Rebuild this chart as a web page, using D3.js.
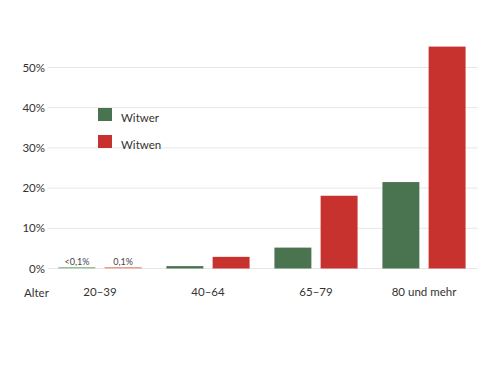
<!DOCTYPE html>
<html lang="de">
<head>
  <meta charset="UTF-8">
  <title>Verwitwet nach Alter</title>
  <style>
    body { margin: 0; background: #fff; }
    svg { font-family: Lato, "Open Sans", sans-serif; }
  </style>
  <script src="https://d3js.org/d3.v7.min.js"></script>
</head>
<body>
<script>
  var categories = ["20–39", "40–64", "65–79", "80 und mehr"];
  var witwer = [0.05, 0.6, 5.2, 21.5];
  var witwen = [0.1, 2.9, 18.1, 55.2];
  var smallLabels = ["<0,1%", "0,1%"];
  var yTicks = [0, 10, 20, 30, 40, 50];
  var seriesNames = ["Witwer", "Witwen"];
  var colors = ["#4a7450", "#c8322e"];
  var lightColors = ["#9cbf9c", "#ef9a92"];

  var width = 500, height = 380;
  var svg = d3.select("body").append("svg")
    .attr("width", width).attr("height", height);

  var y = d3.scaleLinear().domain([0, 50]).range([268.5, 67.5]);
  var x0 = d3.scaleBand().domain(categories).range([46, 478]).paddingInner(0.23).paddingOuter(0.115);
  var x1 = d3.scaleBand().domain([0, 1]).range([0, x0.bandwidth()]).paddingInner(0.2);

  // gridlines
  svg.append("g").selectAll("line").data(yTicks).enter().append("line")
    .attr("x1", 48).attr("x2", 478)
    .attr("y1", function (d) { return y(d); })
    .attr("y2", function (d) { return y(d); })
    .attr("stroke", "#e6e6e6").attr("stroke-width", 1);

  var yAxis = d3.axisLeft(y).tickValues(yTicks).tickSize(0).tickPadding(0)
    .tickFormat(function (d) { return d + "%"; });
  var gy = svg.append("g").attr("transform", "translate(45,0)").call(yAxis);
  gy.select(".domain").remove();
  gy.selectAll("text").attr("font-size", 11.5).attr("fill", "#333")
    .attr("font-family", "Lato, sans-serif");

  // bars
  var rows = categories.map(function (c, i) { return { cat: c, vals: [witwer[i], witwen[i]], i: i }; });
  var groups = svg.append("g").selectAll("g").data(rows).enter().append("g")
    .attr("transform", function (d) { return "translate(" + x0(d.cat) + ",0)"; });

  groups.selectAll("rect").data(function (d) {
    return d.vals.map(function (v, k) { return { v: v, k: k, i: d.i }; });
  }).enter().append("rect")
    .attr("x", function (d) { return x1(d.k); })
    .attr("width", x1.bandwidth())
    .attr("y", function (d) { return Math.min(y(d.v), y(0) - 1.5); })
    .attr("height", function (d) { return Math.max(y(0) - y(d.v), 1.5); })
    .attr("fill", function (d) { return d.i === 0 ? lightColors[d.k] : colors[d.k]; });

  // small value labels for first group
  svg.append("g").selectAll("text").data(smallLabels).enter().append("text")
    .attr("x", function (d, k) { return x0(categories[0]) + x1(k) + x1.bandwidth() / 2; })
    .attr("y", y(0) - 4)
    .attr("text-anchor", "middle")
    .attr("font-size", 9).attr("fill", "#444")
    .text(function (d) { return d; });

  // x axis labels
  var xAxis = d3.axisBottom(x0).tickSize(0).tickPadding(0);
  var gx = svg.append("g").attr("transform", "translate(0,288)").call(xAxis);
  gx.select(".domain").remove();
  gx.selectAll("text").attr("font-size", 11.5).attr("fill", "#333")
    .attr("font-family", "Lato, sans-serif");

  svg.append("text").attr("x", 24).attr("y", 297)
    .attr("font-size", 11.5).attr("fill", "#333").text("Alter");

  // legend
  var legend = svg.append("g").selectAll("g").data(seriesNames).enter().append("g")
    .attr("transform", function (d, k) { return "translate(98," + (108 + k * 27) + ")"; });
  legend.append("rect").attr("width", 14).attr("height", 13)
    .attr("fill", function (d, k) { return colors[k]; });
  legend.append("text").attr("x", 23).attr("y", 14)
    .attr("font-size", 11.5).attr("fill", "#333").text(function (d) { return d; });
</script>
</body>
</html>
